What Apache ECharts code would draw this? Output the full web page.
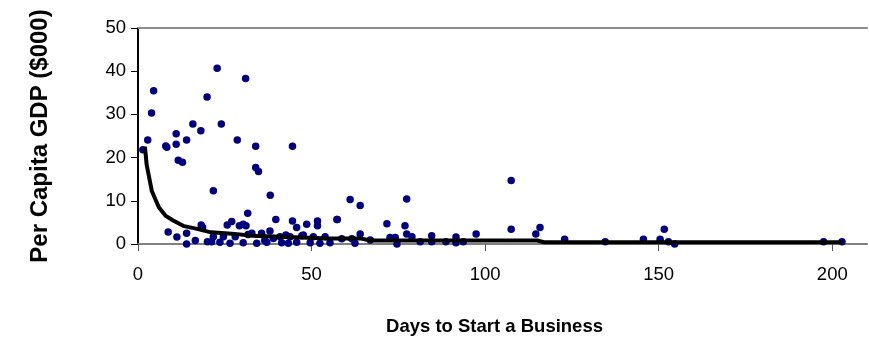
<!DOCTYPE html>
<html>
<head>
<meta charset="utf-8">
<script src="https://cdn.jsdelivr.net/npm/echarts@6/dist/echarts.min.js"></script>
<style>
html, body { margin: 0; padding: 0; background: #fff; }
#chart { width: 869px; height: 341px; }
</style>
</head>
<body>
<div id="chart"></div>
<script>
// 散点数据: 开业天数 / 人均GDP(千美元)
var scatterDays = [
	22.8, 31.0, 4.5, 3.9, 19.9, 15.8, 24.0, 18.1, 11.0, 11.0,
	14.0, 8.0, 8.3, 2.8, 28.6, 11.6, 12.8, 1.4, 33.9, 44.5,
	33.9, 34.7, 21.7, 38.1, 31.6, 39.7, 44.5, 8.7, 11.2, 14.0,
	14.0, 18.2, 18.6, 20.0, 21.2, 21.7, 24.6, 23.6, 25.7, 27.0,
	26.5, 29.2, 28.0, 30.3, 31.1, 45.7, 48.6, 51.7, 51.7, 57.3,
	38.0, 31.7, 35.6, 40.9, 43.8, 47.2, 50.5, 53.9, 30.3, 34.2,
	37.1, 41.4, 43.3, 45.7, 49.6, 52.4, 55.3, 61.1, 64.0, 77.4,
	57.4, 71.7, 76.9, 77.4, 78.9, 64.0, 58.7, 61.6, 62.5, 66.9,
	72.6, 74.1, 74.6, 81.3, 84.6, 84.6, 91.6, 91.6, 88.7, 93.7,
	97.4, 107.5, 107.5, 114.6, 115.8, 122.9, 134.6, 145.6, 150.4, 151.6,
	152.8, 154.6, 197.5, 202.8, 47.6, 32.8, 36.5, 39.0, 42.6, 16.5
];
var scatterGdp = [
	40.7, 38.3, 35.5, 30.3, 34.0, 27.8, 27.8, 26.2, 25.5, 23.1,
	24.1, 22.7, 22.4, 24.1, 24.1, 19.4, 18.9, 21.8, 22.6, 22.6,
	17.7, 16.8, 12.3, 11.3, 7.1, 5.7, 5.3, 2.8, 1.6, 2.5,
	0.0, 4.4, 3.9, 0.5, 0.5, 1.7, 1.7, 0.4, 4.4, 5.2,
	0.2, 4.2, 1.7, 4.6, 4.2, 3.8, 4.6, 5.3, 4.2, 5.7,
	3.0, 2.2, 2.5, 1.7, 1.7, 1.9, 1.7, 1.7, 0.3, 0.2,
	0.4, 0.3, 0.2, 0.4, 0.3, 0.2, 0.3, 10.3, 8.9, 10.4,
	5.7, 4.7, 4.2, 2.3, 1.7, 2.3, 1.2, 1.2, 0.2, 0.9,
	1.5, 1.5, 0.0, 0.5, 1.9, 0.5, 1.6, 0.3, 0.5, 0.5,
	2.3, 14.7, 3.4, 2.3, 3.8, 1.1, 0.5, 1.1, 1.1, 3.4,
	0.5, 0.0, 0.5, 0.5, 2.1, 2.5, 0.8, 1.3, 2.1, 0.8
];

// 拟合曲线
var trendDays = [2, 2.5, 4, 6, 8, 10, 13, 17, 21, 27, 33, 43, 55, 64, 67, 100, 115, 117, 150, 203];
var trendGdp = [22.5, 18.3, 12.2, 8.5, 6.5, 5.5, 4.2, 3.5, 2.7, 2.4, 1.9, 1.6, 1.3, 1.3, 0.8, 0.8, 0.8, 0.4, 0.4, 0.4];

var xTicks = [0, 50, 100, 150, 200];

var scatterData = scatterDays.map(function (d, i) { return [d, scatterGdp[i]]; });
var trendData = trendDays.map(function (d, i) { return [d, trendGdp[i]]; });

var myChart = echarts.init(document.getElementById('chart'));

var font = 'Liberation Sans, Arial, sans-serif';

option = {
	animation: false,
	grid: {
		left: 138,
		right: 2,
		top: 28,
		bottom: 97
	},
	xAxis: [
		{
			type: 'value',
			min: 0,
			max: 210,
			name: 'Days to Start a Business',
			nameLocation: 'middle',
			nameGap: 73,
			nameTextStyle: {
				fontFamily: font,
				fontSize: 18.5,
				fontWeight: 'bold',
				color: '#000',
				padding: [0, 16, 0, 0]
			},
			axisLine: { show: true, lineStyle: { color: '#808080', width: 2 } },
			axisTick: {
				show: true,
				length: 7,
				customValues: xTicks,
				lineStyle: { color: '#555', width: 1 }
			},
			axisLabel: {
				customValues: xTicks,
				margin: 21,
				fontFamily: font,
				fontSize: 18.5,
				color: '#000'
			},
			splitLine: { show: false }
		},
		{
			type: 'value',
			position: 'top',
			min: 0,
			max: 210,
			axisLine: { show: true, lineStyle: { color: '#8c8c8c', width: 2 } },
			axisTick: { show: false },
			axisLabel: { show: false },
			splitLine: { show: false }
		}
	],
	yAxis: {
		type: 'value',
		min: 0,
		max: 50,
		interval: 10,
		name: 'Per Capita GDP ($000)',
		nameLocation: 'middle',
		nameGap: 86,
		nameTextStyle: {
			fontFamily: font,
			fontSize: 24,
			fontWeight: 'bold',
			color: '#000'
		},
		axisLine: { show: true, lineStyle: { color: '#000', width: 2 } },
		axisTick: { show: true, length: 7, lineStyle: { color: '#000', width: 1 } },
		axisLabel: {
			margin: 12,
			fontFamily: font,
			fontSize: 18.5,
			color: '#000'
		},
		splitLine: { show: false }
	},
	series: [
		{
			name: 'Countries',
			type: 'scatter',
			symbol: 'circle',
			symbolSize: 7.5,
			itemStyle: { color: '#000080', opacity: 1 },
			data: scatterData,
			z: 2
		},
		{
			name: 'Trend',
			type: 'line',
			showSymbol: false,
			symbol: 'none',
			lineStyle: { color: '#000', width: 4 },
			data: trendData,
			z: 3
		}
	]
};

myChart.setOption(option);
</script>
</body>
</html>
